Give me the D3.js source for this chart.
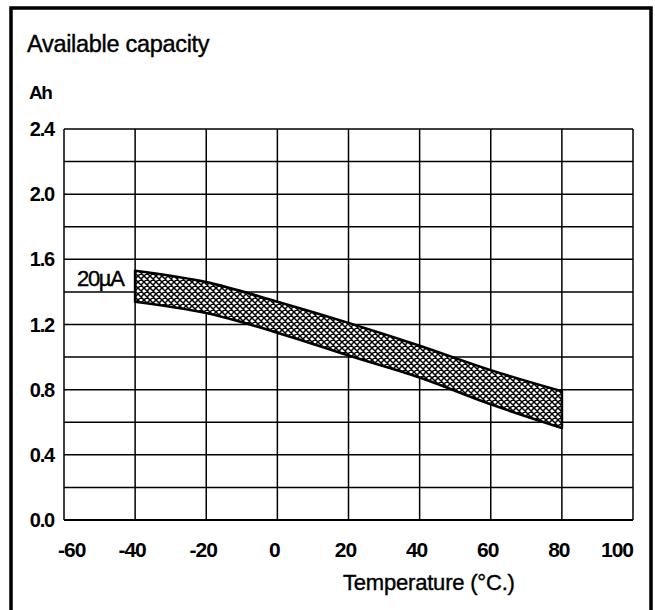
<!DOCTYPE html>
<html>
<head>
<meta charset="utf-8">
<script src="https://cdn.jsdelivr.net/npm/d3@7"></script>
<style>
	body { margin: 0; background: #fff; }
	text { font-family: "Liberation Sans", Arial, Helvetica, sans-serif; fill: #000; }
</style>
</head>
<body>
<div id="chart"></div>
<script>
// data
var temps = [-40, -20, 0, 20, 40, 60, 80];
var upperAh = [1.53, 1.46, 1.34, 1.21, 1.07, 0.92, 0.79];
var lowerAh = [1.34, 1.27, 1.15, 1.01, 0.875, 0.71, 0.565];
var xTicks = [-60, -40, -20, 0, 20, 40, 60, 80, 100];
var yTicks = [0.0, 0.4, 0.8, 1.2, 1.6, 2.0, 2.4];
var yGrid = d3.range(0, 2.41, 0.2);

var width = 655, height = 610;
var plot = {left: 64, right: 633, top: 129, bottom: 520};

var svg = d3.select("#chart").append("svg")
	.attr("width", width)
	.attr("height", height);

// outer frame
svg.append("path")
	.attr("d", "M11,613 L11,8 L651,8 L651,613")
	.attr("fill", "none")
	.attr("stroke", "#000")
	.attr("stroke-width", 3.5);

var x = d3.scaleLinear().domain([-60, 100]).range([plot.left, plot.right]);
var y = d3.scaleLinear().domain([0, 2.4]).range([plot.bottom, plot.top]);

// cross hatch pattern
var p = 6;
var defs = svg.append("defs");
var pat = defs.append("pattern")
	.attr("id", "hatch")
	.attr("patternUnits", "userSpaceOnUse")
	.attr("width", p)
	.attr("height", p);
pat.append("rect").attr("width", p).attr("height", p).attr("fill", "#fff");
pat.append("path")
	.attr("d", "M" + (-p) + "," + (-p) + " L" + (2*p) + "," + (2*p) +
		" M" + (-p) + "," + (2*p) + " L" + (2*p) + "," + (-p) +
		" M" + (-p) + "," + 0 + " L" + p + "," + (2*p) +
		" M" + 0 + "," + (-p) + " L" + (2*p) + "," + p +
		" M" + (-p) + "," + p + " L" + p + "," + (-p) +
		" M" + 0 + "," + (2*p) + " L" + (2*p) + "," + 0)
	.attr("stroke", "#000")
	.attr("stroke-width", 1.5);

// grid
var grid = svg.append("g");
grid.selectAll(".hg").data(yGrid).enter().append("line")
	.attr("x1", plot.left).attr("x2", plot.right)
	.attr("y1", function(d){ return y(d); })
	.attr("y2", function(d){ return y(d); })
	.attr("stroke", "#000").attr("stroke-width", 1.5);
grid.selectAll(".vg").data(xTicks).enter().append("line")
	.attr("y1", plot.top).attr("y2", plot.bottom)
	.attr("x1", function(d){ return x(d); })
	.attr("x2", function(d){ return x(d); })
	.attr("stroke", "#000").attr("stroke-width", 1.5);
svg.append("line")
	.attr("x1", plot.left).attr("x2", plot.right)
	.attr("y1", plot.bottom).attr("y2", plot.bottom)
	.attr("stroke", "#000").attr("stroke-width", 2.2);

// band
var band = temps.map(function(t, i){ return {t: t, lo: lowerAh[i], hi: upperAh[i]}; });
var area = d3.area()
	.x(function(d){ return x(d.t); })
	.y0(function(d){ return y(d.lo); })
	.y1(function(d){ return y(d.hi); })
	.curve(d3.curveMonotoneX);
svg.append("path")
	.datum(band)
	.attr("d", area)
	.attr("fill", "url(#hatch)")
	.attr("stroke", "#000")
	.attr("stroke-width", 2.6)
	.attr("stroke-linejoin", "round");

// tick labels
svg.selectAll(".yl").data(yTicks).enter().append("text")
	.attr("x", plot.left - 10)
	.attr("y", function(d){ return y(d) + 7; })
	.attr("text-anchor", "end")
	.attr("font-size", 20)
	.attr("font-weight", "bold")
	.attr("letter-spacing", -1.2)
	.text(function(d){ return d3.format(".1f")(d); });

svg.selectAll(".xl").data(xTicks).enter().append("text")
	.attr("x", function(d, i){
		if (i == 0) return x(d) - 6;
		if (i == xTicks.length - 1) return x(d);
		return x(d) - 3;
	})
	.attr("y", plot.bottom + 37)
	.attr("text-anchor", function(d, i){
		if (i == 0) return "start";
		if (i == xTicks.length - 1) return "end";
		return "middle";
	})
	.attr("font-size", 21)
	.attr("font-weight", "bold")
	.attr("letter-spacing", -1)
	.text(function(d){ return d; });

// titles
svg.append("text")
	.attr("x", 27).attr("y", 52)
	.attr("font-size", 23.5)
	.attr("letter-spacing", -0.3)
	.attr("stroke", "#000").attr("stroke-width", 0.4)
	.text("Available capacity");
svg.append("text")
	.attr("x", 29).attr("y", 99)
	.attr("font-size", 19)
	.attr("font-weight", "bold")
	.attr("letter-spacing", -1.5)
	.text("Ah");
svg.append("text")
	.attr("x", 343).attr("y", 590)
	.attr("font-size", 22)
	.attr("letter-spacing", -0.2)
	.attr("stroke", "#000").attr("stroke-width", 0.4)
	.text("Temperature (°C.)");

// series label
svg.append("text")
	.attr("x", 77).attr("y", 286)
	.attr("font-size", 22)
	.attr("letter-spacing", -1.3)
	.attr("stroke", "#000").attr("stroke-width", 0.4)
	.text("20µA");
</script>
</body>
</html>
